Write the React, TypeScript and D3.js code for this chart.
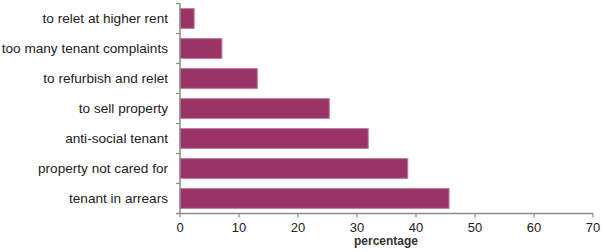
import React from "react";
import * as d3 from "d3";

const categories = [
  "to relet at higher rent",
  "too many tenant complaints",
  "to refurbish and relet",
  "to sell property",
  "anti-social tenant",
  "property not cared for",
  "tenant in arrears",
];
const values = [2.4, 7.1, 13.1, 25.3, 31.9, 38.6, 45.6];
const xTicks = [0, 10, 20, 30, 40, 50, 60, 70];

export default function App() {
  const W = 604, H = 252;
  const left = 180, right = 593, top = 3.5, bottom = 213.5;
  const x = d3.scaleLinear().domain([0, 70]).range([left, right]);
  const y = d3.scaleBand().domain(categories).range([top, bottom]).paddingInner(0.34).paddingOuter(0.17);
  const axisColor = "#8c8c8c";
  const font = "Liberation Sans, Arial, sans-serif";
  return (
    <svg width={W} height={H} style={{ position: "absolute", left: 0, top: 0 }} fontFamily={font}>
      {categories.map((c, i) => (
        <rect key={c} x={x(0)} y={y(c)!} width={x(values[i]) - x(0)} height={y.bandwidth()}
          fill="#993366" stroke="#c27a9d" strokeWidth={1} />
      ))}
      {/* y axis */}
      <line x1={left} x2={left} y1={top} y2={bottom} stroke={axisColor} strokeWidth={1.5} />
      {d3.range(categories.length + 1).map((i) => {
        const yy = top + (i * (bottom - top)) / categories.length;
        return <line key={i} x1={left - 4} x2={left} y1={yy} y2={yy} stroke={axisColor} strokeWidth={1.2} />;
      })}
      {categories.map((c) => (
        <text key={c} x={left - 12} y={y(c)! + y.bandwidth() / 2} dy="0.35em" textAnchor="end" fontSize={13.6} fill="#222">
          {c}
        </text>
      ))}
      {/* x axis */}
      <line x1={left - 4} x2={right} y1={bottom} y2={bottom} stroke={axisColor} strokeWidth={1.5} />
      {xTicks.map((t) => (
        <g key={t}>
          <line x1={x(t)} x2={x(t)} y1={bottom} y2={bottom + 4} stroke={axisColor} strokeWidth={1.2} />
          <text x={x(t)} y={bottom + 14} dy="0.35em" textAnchor="middle" fontSize={13} fill="#222">{t}</text>
        </g>
      ))}
      <text x={386} y={241} dy="0.35em" textAnchor="middle" fontSize={12} fontWeight="bold" fill="#333">percentage</text>
    </svg>
  );
}
